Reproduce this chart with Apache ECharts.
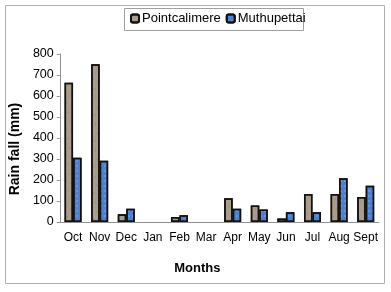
<!DOCTYPE html>
<html>
<head>
<meta charset="utf-8">
<script src="https://cdn.jsdelivr.net/npm/echarts@6/dist/echarts.min.js"></script>
<style>
  html, body { margin: 0; padding: 0; background: #fff; }
  #chart { width: 391px; height: 292px; }
</style>
</head>
<body>
<div id="chart"></div>
<script>
const months = ['Oct', 'Nov', 'Dec', 'Jan', 'Feb', 'Mar', 'Apr', 'May', 'Jun', 'Jul', 'Aug', 'Sept'];
const pointcalimere = [663, 751, 37, 0, 24, 0, 113, 79, 17, 133, 133, 119];
const muthupettai = [306, 292, 63, 0, 32, 0, 63, 59, 46, 46, 208, 173];
const yTicks = [0, 800, 100];

const chart = echarts.init(document.getElementById('chart'));

const font = 'Liberation Sans, Arial, sans-serif';

// Jan / Mar have no bar drawn at all
const noZero = arr => arr.map(v => (v === 0 ? null : v));

chart.setOption({
  animation: false,
  textStyle: { fontFamily: font },
  graphic: [{
    type: 'rect',
    shape: { x: 5.5, y: 5.5, width: 379, height: 278 },
    style: { fill: 'none', stroke: '#b0b0b0', lineWidth: 1 },
    silent: true
  }, {
    type: 'rect',
    shape: { x: 124.5, y: 8.5, width: 179, height: 22 },
    style: { fill: 'none', stroke: '#a0a0a0', lineWidth: 1 },
    silent: true
  }],
  legend: {
    left: 126,
    top: 10,
    itemWidth: 8,
    itemHeight: 8,
    itemGap: 5,
    padding: [2, 4],
    textStyle: { fontSize: 13, color: '#000', padding: [0, 0, 0, -2] },
    data: ['Pointcalimere', 'Muthupettai']
  },
  grid: { left: 58, right: 12, top: 54, bottom: 70 },
  xAxis: {
    type: 'category',
    data: months,
    name: 'Months',
    nameLocation: 'middle',
    nameGap: 40,
    nameTextStyle: { fontSize: 13, fontWeight: 'bold', color: '#000', padding: [0, 44, 0, 0] },
    axisLine: { lineStyle: { color: '#909090' } },
    axisTick: { lineStyle: { color: '#909090' }, length: 4 },
    axisLabel: { color: '#000', fontSize: 12, margin: 10, interval: 0 }
  },
  yAxis: {
    type: 'value',
    min: yTicks[0],
    max: yTicks[1],
    interval: yTicks[2],
    name: 'Rain fall (mm)',
    nameLocation: 'middle',
    nameGap: 32,
    nameTextStyle: { fontSize: 14, fontWeight: 'bold', color: '#000', padding: [0, 22, 0, 0] },
    axisLine: { show: true, lineStyle: { color: '#909090' } },
    axisTick: { show: true, length: 3, lineStyle: { color: '#909090' } },
    axisLabel: { color: '#000', fontSize: 12.5, margin: 6 },
    splitLine: { show: false }
  },
  series: [{
    name: 'Pointcalimere',
    type: 'bar',
    data: noZero(pointcalimere),
    barWidth: 8.5,
    barGap: '0%',
    itemStyle: {
      color: '#ab9c8c',
      borderColor: '#111',
      borderWidth: 1.5,
      decal: {
        symbol: 'circle',
        symbolSize: 0.5,
        color: 'rgba(90,70,55,0.55)',
        dashArrayX: [[3, 2], [1, 4]],
        dashArrayY: [2, 2],
        rotation: 0.4
      }
    }
  }, {
    name: 'Muthupettai',
    type: 'bar',
    data: noZero(muthupettai),
    barWidth: 8.5,
    itemStyle: {
      color: '#4f7fcf',
      borderColor: '#111',
      borderWidth: 1.5,
      decal: {
        symbol: 'rect',
        symbolSize: 0.6,
        color: 'rgba(210,225,255,0.7)',
        dashArrayX: [2, 2],
        dashArrayY: [2, 3]
      }
    }
  }]
});
</script>
</body>
</html>
